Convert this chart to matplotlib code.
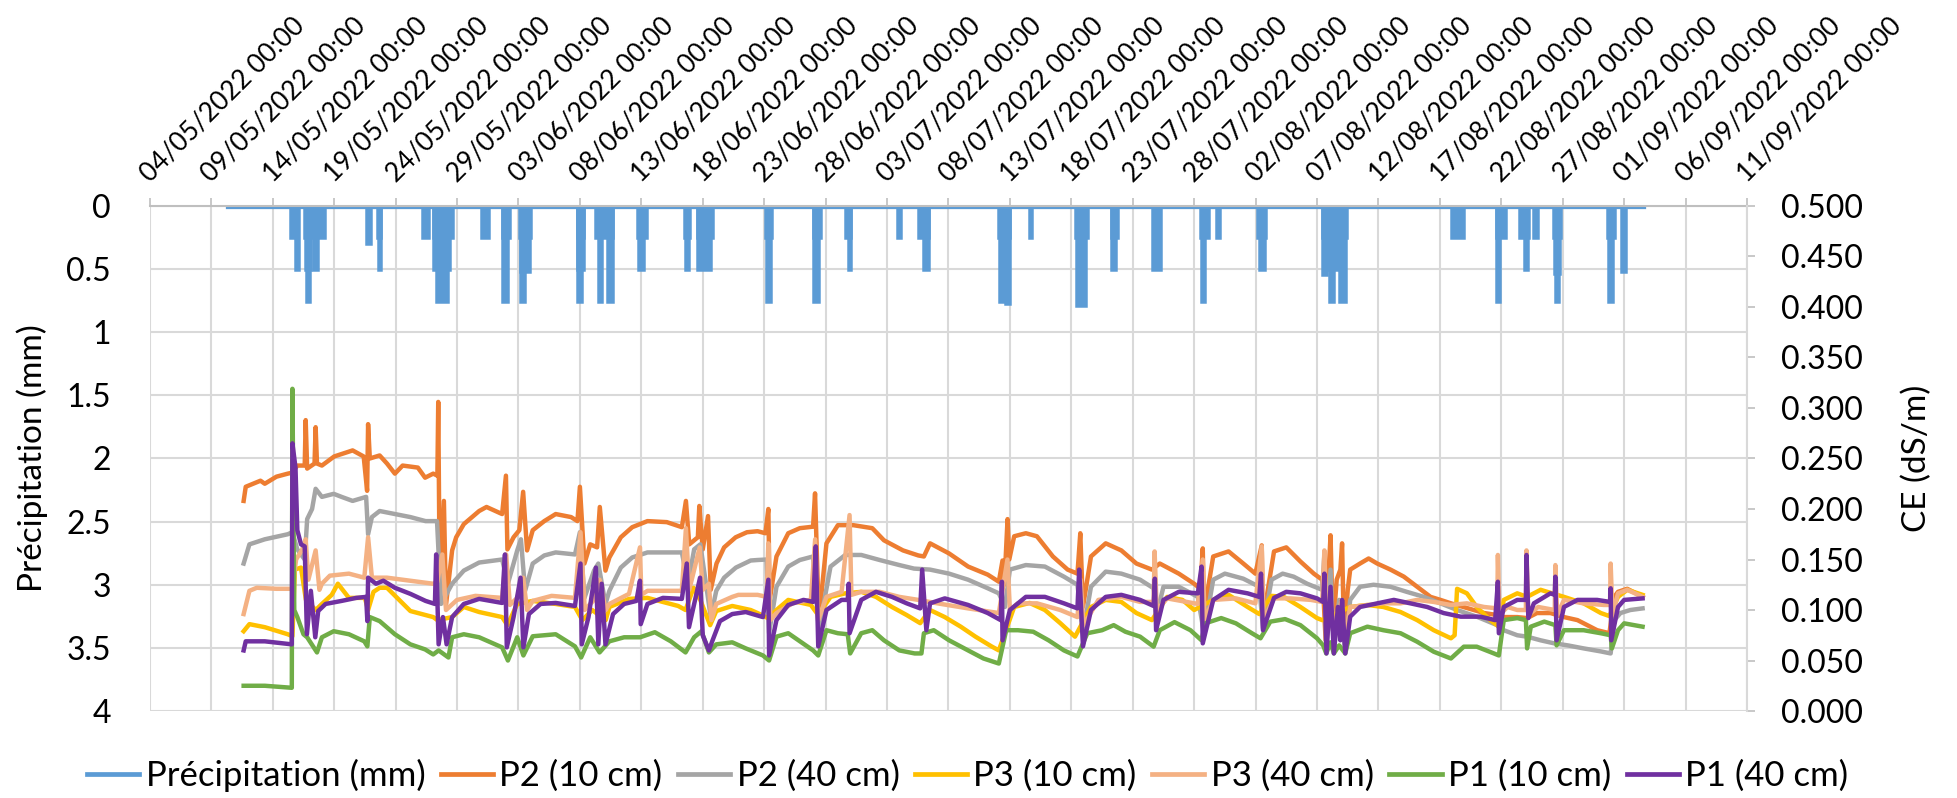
import matplotlib
matplotlib.use('Agg')
import matplotlib.pyplot as plt
import matplotlib.dates as mdates
from matplotlib.ticker import FixedLocator, FuncFormatter, MultipleLocator
import numpy as np
import pandas as pd

plt.rcParams['font.family'] = ['Lato', 'DejaVu Sans']

# ---- data (days counted from 04/05/2022 00:00) ----
start = pd.Timestamp('2022-05-04')
end = pd.Timestamp('2022-09-11')
tick_dates = pd.date_range(start, end, freq='5D')

# precipitation: first / last record and rain pulses (start day, end day, mm)
rain_first, rain_last = 6.4, 121.55
rain_start = [11.37, 11.84, 12.56, 12.62, 12.71, 13.24, 17.6, 18.48, 18.54, 22.13,
              23.06, 23.06, 23.31, 26.96, 28.67, 28.67, 30.07, 30.13, 30.16, 34.75,
              34.75, 34.8, 36.2, 36.46, 37.24, 39.64, 39.73, 43.47, 43.53, 44.56,
              44.56, 50.06, 50.12, 53.98, 53.98, 56.57, 56.79, 60.78, 62.55, 62.96,
              69.03, 69.1, 69.63, 71.53, 75.33, 75.42, 78.2, 78.23, 81.56, 85.46,
              85.55, 86.8, 90.13, 90.29, 95.42, 95.42, 95.82, 95.96, 96.77, 105.87,
              109.53, 109.53, 111.43, 111.84, 112.6, 114.23, 114.28, 114.34, 118.57, 118.68,
              119.71]
rain_end = [12.0, 12.15, 14.24, 13.09, 13.03, 13.71, 17.98, 18.85, 18.79, 22.75,
            24.68, 24.46, 24.24, 27.58, 29.29, 29.14, 31.0, 30.91, 30.54, 35.37,
            35.37, 35.2, 37.7, 36.77, 37.7, 40.45, 40.2, 43.94, 43.85, 45.81,
            45.65, 50.65, 50.56, 54.6, 54.5, 57.1, 57.1, 61.15, 63.39, 63.39,
            70.03, 69.57, 70.03, 71.84, 76.33, 76.2, 78.82, 78.6, 82.34, 86.24,
            85.92, 87.1, 90.85, 90.75, 97.45, 95.82, 96.77, 96.37, 97.32, 106.95,
            110.35, 109.88, 112.25, 112.16, 112.98, 114.88, 114.77, 114.69, 119.22, 119.11,
            120.12]
rain_mm = [0.254, 0.508, 0.254, 0.508, 0.762, 0.508, 0.3, 0.254, 0.508, 0.254,
           0.254, 0.508, 0.762, 0.254, 0.254, 0.762, 0.254, 0.52, 0.762, 0.254,
           0.508, 0.762, 0.254, 0.762, 0.762, 0.254, 0.508, 0.254, 0.508, 0.254,
           0.508, 0.254, 0.762, 0.254, 0.762, 0.254, 0.508, 0.254, 0.254, 0.508,
           0.254, 0.762, 0.78, 0.254, 0.254, 0.79, 0.254, 0.508, 0.508, 0.254,
           0.762, 0.254, 0.254, 0.508, 0.254, 0.55, 0.508, 0.762, 0.762, 0.254,
           0.254, 0.762, 0.254, 0.508, 0.254, 0.254, 0.54, 0.762, 0.254, 0.762,
           0.52]

p2_10 = [(7.63, 0.208), (7.8, 0.222), (9.0, 0.228), (9.35, 0.225), (10.3, 0.232), (11.22, 0.235),
         (11.59, 0.236), (12.0, 0.243), (12.6, 0.243), (12.68, 0.288), (12.8, 0.24), (13.4, 0.245),
         (13.49, 0.281), (13.6, 0.245), (14.0, 0.243), (15.0, 0.252), (16.5, 0.258), (17.4, 0.252),
         (17.68, 0.218), (17.76, 0.284), (17.9, 0.25), (18.7, 0.253), (19.3, 0.245), (19.94, 0.235),
         (20.57, 0.243), (21.81, 0.241), (22.4, 0.231), (23.06, 0.235), (23.4, 0.233), (23.47, 0.306),
         (23.6, 0.11), (23.93, 0.208), (24.1, 0.105), (24.6, 0.159), (24.93, 0.172), (25.55, 0.185),
         (26.8, 0.198), (27.4, 0.202), (28.67, 0.195), (28.98, 0.233), (29.1, 0.16), (29.6, 0.172),
         (30.07, 0.179), (30.38, 0.217), (30.7, 0.159), (31.16, 0.179), (32.1, 0.188), (33.03, 0.195),
         (34.28, 0.192), (34.8, 0.188), (35.0, 0.222), (35.37, 0.146), (35.84, 0.165), (36.4, 0.162),
         (36.62, 0.202), (37.08, 0.139), (37.4, 0.152), (38.33, 0.172), (39.26, 0.182), (40.5, 0.188),
         (42.07, 0.187), (43.3, 0.182), (43.63, 0.208), (43.9, 0.165), (44.6, 0.172), (44.72, 0.203),
         (45.0, 0.16), (45.43, 0.193), (45.65, 0.12), (46.12, 0.146), (46.74, 0.162), (47.68, 0.172),
         (48.6, 0.177), (49.46, 0.178), (50.1, 0.176), (50.34, 0.2), (50.45, 0.11), (51.0, 0.153),
         (51.96, 0.176), (52.9, 0.181), (53.98, 0.1825), (54.14, 0.2155), (54.45, 0.09), (55.07, 0.166),
         (56.0, 0.184), (57.25, 0.184), (58.8, 0.181), (59.75, 0.169), (61.3, 0.159), (62.55, 0.154),
         (63.0, 0.153), (63.5, 0.166), (65.05, 0.156), (66.6, 0.143), (68.2, 0.135), (69.1, 0.128),
         (69.4, 0.149), (69.55, 0.125), (69.81, 0.19), (69.95, 0.15), (70.35, 0.173), (71.3, 0.176),
         (72.2, 0.173), (73.5, 0.153), (74.7, 0.14), (75.5, 0.136), (75.73, 0.176), (75.95, 0.103),
         (76.6, 0.153), (77.8, 0.166), (79.07, 0.159), (80.3, 0.146), (81.56, 0.14), (82.2, 0.146),
         (83.75, 0.136), (85.0, 0.126), (85.5, 0.121), (85.7, 0.161), (85.8, 0.097), (86.55, 0.153),
         (87.8, 0.158), (89.0, 0.146), (89.98, 0.136), (90.5, 0.164), (90.6, 0.09), (91.5, 0.158),
         (92.5, 0.162), (93.65, 0.148), (94.74, 0.136), (95.42, 0.13), (95.5, 0.12), (95.7, 0.07),
         (96.0, 0.15), (96.1, 0.174), (96.3, 0.08), (96.6, 0.13), (96.9, 0.14), (97.04, 0.166),
         (97.2, 0.07), (97.5, 0.12), (97.7, 0.14), (98.5, 0.146), (99.2, 0.151), (99.9, 0.146),
         (100.98, 0.14), (102.07, 0.133), (103.15, 0.123), (104.24, 0.113), (105.05, 0.11), (105.9, 0.1066),
         (107.2, 0.102), (108.6, 0.097), (109.67, 0.095), (110.2, 0.093), (111.3, 0.093), (112.1, 0.092),
         (112.9, 0.097), (114.0, 0.097), (115.1, 0.093), (116.2, 0.09), (117.8, 0.08), (118.8, 0.077),
         (119.2, 0.113), (119.5, 0.118), (120.25, 0.121), (121.5, 0.113)]

p2_40 = [(7.63, 0.146), (8.1, 0.165), (9.35, 0.17), (11.22, 0.175), (11.59, 0.177), (12.0, 0.16),
         (12.6, 0.15), (12.8, 0.19), (13.2, 0.2), (13.49, 0.22), (14.0, 0.212), (14.96, 0.215),
         (15.6, 0.212), (16.5, 0.208), (17.6, 0.212), (17.76, 0.175), (18.07, 0.192), (18.7, 0.198),
         (19.94, 0.195), (21.2, 0.192), (22.44, 0.188), (23.37, 0.188), (23.7, 0.106), (24.6, 0.126),
         (25.55, 0.139), (26.8, 0.147), (28.67, 0.15), (29.14, 0.126), (29.9, 0.159), (30.2, 0.17),
         (30.54, 0.119), (31.16, 0.146), (32.1, 0.154), (33.03, 0.157), (34.6, 0.155), (35.0, 0.177),
         (35.37, 0.112), (36.15, 0.139), (36.5, 0.146), (37.08, 0.106), (37.4, 0.119), (38.33, 0.142),
         (39.26, 0.152), (40.5, 0.157), (43.3, 0.157), (43.8, 0.126), (44.3, 0.16), (44.8, 0.165),
         (45.65, 0.093), (46.1, 0.119), (46.74, 0.132), (47.7, 0.142), (48.9, 0.149), (49.46, 0.1495),
         (50.2, 0.15), (50.4, 0.077), (51.0, 0.123), (51.96, 0.143), (52.9, 0.1495), (53.98, 0.153),
         (54.45, 0.08), (55.4, 0.143), (56.6, 0.1545), (57.9, 0.1545), (59.4, 0.1495), (61.0, 0.1445),
         (62.2, 0.141), (63.5, 0.14), (65.05, 0.136), (66.6, 0.13), (68.2, 0.1215), (69.1, 0.1165),
         (69.6, 0.103), (70.0, 0.14), (71.3, 0.1445), (72.85, 0.143), (74.4, 0.133), (75.5, 0.125),
         (75.95, 0.077), (76.6, 0.123), (77.8, 0.138), (79.07, 0.136), (80.6, 0.13), (81.7, 0.1215),
         (81.9, 0.093), (82.5, 0.123), (83.75, 0.123), (85.3, 0.113), (85.8, 0.077), (86.55, 0.13),
         (87.5, 0.136), (89.0, 0.131), (90.3, 0.123), (90.6, 0.082), (91.3, 0.13), (92.2, 0.136),
         (93.1, 0.133), (94.2, 0.126), (95.42, 0.12), (95.6, 0.155), (95.75, 0.06), (96.1, 0.14),
         (96.37, 0.06), (96.8, 0.11), (97.3, 0.06), (97.7, 0.11), (98.5, 0.123), (99.6, 0.125),
         (100.98, 0.123), (102.3, 0.118), (103.7, 0.113), (105.05, 0.1066), (106.4, 0.1), (108.0, 0.0934),
         (109.67, 0.085), (110.2, 0.08), (111.3, 0.075), (112.1, 0.0736), (113.2, 0.07), (114.3, 0.067),
         (115.4, 0.065), (116.7, 0.062), (118.1, 0.059), (118.9, 0.057), (119.2, 0.09), (119.7, 0.097),
         (120.5, 0.1), (121.5, 0.1016)]

p3_10 = [(7.63, 0.079), (8.1, 0.086), (9.35, 0.083), (11.22, 0.076), (11.6, 0.074), (11.8, 0.14),
         (12.3, 0.142), (12.7, 0.11), (13.5, 0.1), (14.0, 0.106), (14.8, 0.115), (15.3, 0.126),
         (16.2, 0.112), (17.5, 0.112), (17.76, 0.1), (18.2, 0.118), (18.7, 0.122), (19.3, 0.122),
         (21.2, 0.099), (23.06, 0.093), (23.4, 0.09), (24.6, 0.093), (25.55, 0.103), (26.8, 0.098),
         (28.67, 0.093), (29.1, 0.085), (29.9, 0.106), (31.16, 0.109), (33.03, 0.106), (34.6, 0.103),
         (35.2, 0.09), (36.0, 0.1), (37.1, 0.09), (37.4, 0.103), (39.0, 0.111), (40.5, 0.112),
         (43.0, 0.104), (43.6, 0.1), (44.25, 0.122), (44.8, 0.11), (45.6, 0.085), (46.1, 0.099),
         (47.4, 0.104), (48.9, 0.1), (49.46, 0.097), (50.3, 0.092), (51.0, 0.1), (51.96, 0.11),
         (53.8, 0.105), (54.4, 0.095), (55.4, 0.113), (56.6, 0.1165), (57.9, 0.118), (59.1, 0.113),
         (60.4, 0.103), (61.6, 0.095), (62.7, 0.087), (63.5, 0.1), (64.7, 0.093), (66.0, 0.0835),
         (67.2, 0.0736), (68.5, 0.064), (69.1, 0.06), (70.35, 0.103), (71.6, 0.107), (72.85, 0.1),
         (74.1, 0.087), (75.3, 0.0736), (76.6, 0.103), (77.8, 0.11), (79.07, 0.108), (80.3, 0.097),
         (81.56, 0.09), (82.8, 0.113), (84.05, 0.11), (85.0, 0.1), (86.55, 0.11), (87.8, 0.115),
         (89.35, 0.103), (90.3, 0.096), (91.3, 0.114), (92.3, 0.113), (93.65, 0.103), (95.0, 0.092),
         (95.42, 0.09), (97.7, 0.103), (99.1, 0.105), (100.4, 0.103), (101.8, 0.098), (103.15, 0.09),
         (104.5, 0.08), (105.9, 0.072), (106.2, 0.075), (106.4, 0.121), (107.2, 0.1165), (108.0, 0.103),
         (109.1, 0.09), (109.8, 0.0835), (110.2, 0.11), (111.3, 0.1165), (112.1, 0.113), (113.2, 0.12),
         (114.0, 0.117), (115.1, 0.113), (116.7, 0.1066), (118.1, 0.097), (118.8, 0.094), (119.5, 0.113),
         (120.25, 0.12), (121.5, 0.115)]

p3_40 = [(7.63, 0.096), (8.1, 0.119), (8.7, 0.122), (10.3, 0.121), (11.59, 0.121), (11.9, 0.15),
         (12.4, 0.16), (12.68, 0.17), (12.9, 0.13), (13.49, 0.159), (13.8, 0.12), (14.0, 0.126),
         (14.65, 0.134), (16.2, 0.136), (17.45, 0.132), (17.76, 0.172), (18.07, 0.132), (19.3, 0.132),
         (21.2, 0.129), (23.06, 0.126), (23.4, 0.128), (23.8, 0.155), (24.1, 0.1), (25.0, 0.11),
         (26.5, 0.114), (28.67, 0.112), (29.0, 0.155), (29.3, 0.105), (29.9, 0.112), (30.38, 0.132),
         (30.7, 0.1), (31.16, 0.109), (32.7, 0.114), (34.6, 0.112), (35.05, 0.177), (35.4, 0.1),
         (36.15, 0.11), (36.6, 0.13), (37.1, 0.1), (37.4, 0.106), (39.0, 0.116), (39.89, 0.162),
         (40.0, 0.115), (40.5, 0.119), (43.3, 0.119), (43.63, 0.181), (43.9, 0.12), (44.75, 0.162),
         (45.0, 0.12), (45.5, 0.126), (45.7, 0.09), (46.1, 0.106), (47.4, 0.113), (47.9, 0.115),
         (49.46, 0.115), (50.2, 0.113), (50.34, 0.166), (50.5, 0.09), (51.0, 0.097), (52.3, 0.1066),
         (53.8, 0.11), (54.15, 0.17), (54.4, 0.09), (55.07, 0.113), (56.3, 0.118), (56.95, 0.194),
         (57.1, 0.115), (57.9, 0.118), (59.4, 0.118), (61.0, 0.113), (62.55, 0.11), (64.1, 0.1066),
         (66.6, 0.1016), (69.1, 0.097), (69.8, 0.15), (70.0, 0.1), (70.65, 0.1066), (72.2, 0.1066),
         (74.1, 0.1), (75.5, 0.093), (75.75, 0.13), (76.0, 0.085), (77.2, 0.11), (79.07, 0.113),
         (80.6, 0.108), (81.7, 0.108), (81.78, 0.158), (81.95, 0.1), (82.8, 0.1115), (84.4, 0.108),
         (85.3, 0.106), (85.7, 0.15), (85.85, 0.09), (86.55, 0.11), (88.4, 0.1115), (89.98, 0.1066),
         (90.5, 0.163), (90.65, 0.09), (91.5, 0.1115), (92.84, 0.1115), (94.5, 0.11), (95.42, 0.108),
         (95.6, 0.159), (95.8, 0.07), (96.1, 0.12), (96.4, 0.07), (97.0, 0.11), (97.3, 0.07),
         (97.7, 0.103), (100.4, 0.1066), (101.8, 0.1066), (103.15, 0.11), (104.5, 0.108), (105.9, 0.105),
         (107.2, 0.1066), (108.6, 0.103), (109.67, 0.1016), (109.72, 0.1545), (109.85, 0.095), (110.5, 0.103),
         (111.3, 0.1), (112.0, 0.1), (112.05, 0.159), (112.2, 0.095), (113.0, 0.103), (114.35, 0.1),
         (114.4, 0.1445), (114.55, 0.095), (115.1, 0.11), (116.7, 0.1066), (118.35, 0.105), (118.85, 0.105),
         (118.9, 0.146), (119.05, 0.095), (119.5, 0.1165), (120.25, 0.12), (121.5, 0.113)]

p1_10 = [(7.63, 0.025), (9.35, 0.025), (11.55, 0.023), (11.6, 0.319), (11.75, 0.1), (12.0, 0.093),
         (12.5, 0.076), (12.8, 0.073), (13.6, 0.058), (14.0, 0.073), (14.96, 0.079), (16.2, 0.076),
         (17.45, 0.069), (17.7, 0.064), (17.9, 0.093), (18.7, 0.089), (19.94, 0.076), (21.2, 0.066),
         (22.4, 0.061), (23.06, 0.056), (23.5, 0.06), (24.3, 0.053), (24.6, 0.073), (25.55, 0.076),
         (26.8, 0.073), (28.67, 0.063), (29.14, 0.05), (29.9, 0.073), (30.4, 0.055), (31.16, 0.074),
         (33.03, 0.076), (34.6, 0.064), (35.1, 0.053), (35.84, 0.073), (36.6, 0.058), (37.4, 0.069),
         (38.6, 0.073), (39.9, 0.073), (41.1, 0.078), (42.4, 0.069), (43.6, 0.058), (44.3, 0.073),
         (44.9, 0.079), (45.5, 0.058), (46.1, 0.066), (47.4, 0.068), (48.5, 0.062), (49.9, 0.055),
         (50.4, 0.05), (51.0, 0.0736), (51.96, 0.077), (53.98, 0.06), (54.4, 0.055), (55.07, 0.08),
         (56.0, 0.077), (56.8, 0.076), (57.0, 0.057), (57.9, 0.077), (58.8, 0.08), (59.75, 0.07),
         (61.0, 0.06), (62.25, 0.057), (62.8, 0.057), (63.0, 0.077), (63.8, 0.08), (65.05, 0.07),
         (66.6, 0.06), (67.85, 0.052), (69.1, 0.047), (69.7, 0.08), (70.65, 0.08), (71.9, 0.0785),
         (73.15, 0.07), (74.4, 0.06), (75.5, 0.054), (76.3, 0.077), (77.5, 0.08), (78.45, 0.085),
         (79.4, 0.0785), (80.6, 0.0736), (81.7, 0.0637), (82.2, 0.08), (83.4, 0.088), (84.7, 0.08),
         (85.6, 0.07), (85.9, 0.0868), (87.2, 0.092), (88.4, 0.0868), (89.7, 0.077), (90.4, 0.072),
         (91.2, 0.0885), (92.4, 0.091), (93.65, 0.085), (95.0, 0.072), (95.5, 0.065), (95.75, 0.057),
         (96.1, 0.068), (96.37, 0.057), (96.8, 0.065), (97.3, 0.057), (97.7, 0.077), (99.1, 0.0835),
         (100.4, 0.08), (101.8, 0.077), (103.15, 0.0686), (104.5, 0.0587), (105.9, 0.052), (106.95, 0.0637),
         (108.0, 0.0637), (109.4, 0.057), (109.8, 0.055), (110.2, 0.09), (111.3, 0.092), (112.0, 0.09),
         (112.1, 0.062), (112.4, 0.0835), (113.5, 0.0885), (114.4, 0.085), (114.5, 0.065), (115.1, 0.08),
         (116.7, 0.08), (118.1, 0.077), (118.9, 0.075), (119.0, 0.062), (119.5, 0.08), (120.0, 0.0868),
         (121.5, 0.0835)]

p1_40 = [(7.63, 0.06), (7.8, 0.069), (9.35, 0.069), (11.55, 0.066), (11.6, 0.265), (11.85, 0.241),
         (12.0, 0.179), (12.3, 0.165), (12.6, 0.163), (12.78, 0.076), (13.1, 0.119), (13.46, 0.073),
         (13.7, 0.099), (14.3, 0.106), (15.6, 0.109), (16.8, 0.112), (17.6, 0.113), (17.7, 0.089),
         (17.76, 0.132), (18.4, 0.126), (19.0, 0.129), (19.94, 0.122), (21.2, 0.116), (22.44, 0.109),
         (23.2, 0.106), (23.3, 0.155), (23.5, 0.066), (23.85, 0.093), (24.15, 0.066), (24.6, 0.093),
         (25.55, 0.106), (26.8, 0.111), (28.67, 0.107), (28.9, 0.155), (29.05, 0.063), (29.6, 0.093),
         (30.17, 0.132), (30.4, 0.063), (30.85, 0.096), (31.8, 0.106), (33.03, 0.107), (34.6, 0.104),
         (35.05, 0.146), (35.15, 0.066), (35.7, 0.093), (36.3, 0.142), (36.5, 0.066), (36.77, 0.126),
         (37.08, 0.066), (37.7, 0.096), (38.6, 0.106), (39.6, 0.109), (39.89, 0.129), (39.95, 0.086),
         (40.5, 0.106), (41.76, 0.112), (43.3, 0.111), (43.7, 0.146), (43.88, 0.083), (44.3, 0.106),
         (44.78, 0.132), (45.0, 0.075), (45.5, 0.06), (45.8, 0.07), (46.4, 0.089), (47.4, 0.096),
         (48.5, 0.098), (49.9, 0.093), (50.34, 0.13), (50.4, 0.055), (51.0, 0.09), (51.96, 0.105),
         (53.2, 0.11), (54.0, 0.108), (54.2, 0.163), (54.4, 0.064), (55.07, 0.1), (56.3, 0.11),
         (56.8, 0.11), (56.88, 0.126), (56.95, 0.077), (57.9, 0.11), (59.1, 0.118), (60.4, 0.113),
         (61.6, 0.1066), (62.7, 0.1016), (62.86, 0.14), (63.2, 0.08), (63.5, 0.1066), (64.7, 0.1115),
         (66.6, 0.105), (68.2, 0.097), (69.25, 0.09), (69.35, 0.128), (69.4, 0.07), (70.0, 0.1),
         (71.3, 0.113), (72.85, 0.113), (74.4, 0.1066), (75.5, 0.1016), (75.64, 0.14), (75.95, 0.064),
         (76.6, 0.1), (77.8, 0.113), (79.07, 0.115), (80.6, 0.11), (81.7, 0.104), (81.8, 0.131),
         (81.9, 0.08), (82.5, 0.11), (83.75, 0.118), (85.3, 0.1165), (85.6, 0.143), (85.7, 0.067),
         (86.55, 0.11), (87.8, 0.12), (89.35, 0.1165), (90.3, 0.113), (90.44, 0.136), (90.6, 0.08),
         (91.5, 0.112), (92.5, 0.118), (93.65, 0.1165), (95.0, 0.1115), (95.5, 0.108), (95.6, 0.136),
         (95.77, 0.057), (96.1, 0.123), (96.37, 0.057), (96.7, 0.103), (96.9, 0.07), (97.04, 0.11),
         (97.3, 0.057), (97.7, 0.0934), (98.5, 0.103), (99.9, 0.1066), (101.25, 0.11), (102.6, 0.1066),
         (103.97, 0.103), (105.3, 0.097), (106.7, 0.0934), (108.3, 0.0934), (109.5, 0.09), (109.72, 0.128),
         (109.8, 0.077), (110.2, 0.103), (111.3, 0.11), (112.0, 0.11), (112.05, 0.1545), (112.2, 0.092),
         (112.65, 0.1066), (114.0, 0.1165), (114.35, 0.115), (114.4, 0.133), (114.5, 0.07), (115.1, 0.103),
         (116.2, 0.11), (117.8, 0.11), (118.85, 0.108), (118.9, 0.1215), (118.95, 0.07), (119.5, 0.103),
         (120.0, 0.11), (121.5, 0.1115)]

series = [("P2 (10 cm)", p2_10, "#ED7D31"),
          ("P2 (40 cm)", p2_40, "#A5A5A5"),
          ("P3 (10 cm)", p3_10, "#FFC000"),
          ("P3 (40 cm)", p3_40, "#F4B183"),
          ("P1 (10 cm)", p1_10, "#70AD47"),
          ("P1 (40 cm)", p1_40, "#7030A0")]
blue = "#5B9BD5"

t0 = mdates.date2num(start)
def tnum(days):
    return t0 + np.asarray(days, dtype=float)

fig = plt.figure(figsize=(19.57, 7.98), dpi=100)
ax = fig.add_axes([0.0766, 0.109, 0.8161, 0.6329])
ax2 = ax.twinx()

# precipitation (left axis, reversed)
base, = ax.plot(tnum([rain_first, rain_last]), [0, 0], color=blue, lw=4.5,
                label="Précipitation (mm)", zorder=2)
ax.bar(tnum(rain_start), rain_mm, width=np.subtract(rain_end, rain_start), bottom=0,
       align='edge', color=blue, edgecolor=blue, linewidth=1.8, zorder=2)

handles = [base]
for name, pts, col in series:
    d, v = zip(*pts)
    h, = ax2.plot(tnum(d), v, color=col, lw=3.2, label=name, solid_joinstyle='round')
    handles.append(h)

# x axis (dates on top)
ax.set_xlim(mdates.date2num(start), mdates.date2num(end))
ax.xaxis.set_major_locator(FixedLocator(mdates.date2num(tick_dates)))
ax.xaxis.set_major_formatter(mdates.DateFormatter('%d/%m/%Y %H:%M'))
ax.xaxis.tick_top()
ax.tick_params(axis='x', which='major', top=True, bottom=False, direction='out',
               length=5.8, width=1.2, color='#BFBFBF', pad=11, labelsize=19)
for lab in ax.get_xticklabels():
    lab.set_rotation(45)
    lab.set_ha('left')
    lab.set_va('baseline')
    lab.set_rotation_mode('anchor')

# left axis
ax.set_ylim(4, 0)
ax.yaxis.set_major_locator(MultipleLocator(0.5))
ax.yaxis.set_major_formatter(FuncFormatter(lambda v, p: f'{v:g}'))
ax.tick_params(axis='y', length=0, pad=28, labelsize=23)
ax.set_ylabel('Précipitation (mm)', fontsize=24)
ax.yaxis.set_label_coords(-0.064, 0.5)

# right axis
ax2.set_ylim(0, 0.5)
ax2.yaxis.set_major_locator(MultipleLocator(0.05))
ax2.yaxis.set_major_formatter(FuncFormatter(lambda v, p: f'{v:.3f}'))
ax2.tick_params(axis='y', direction='out', length=5.8, width=1.2, color='#BFBFBF',
                pad=19, labelsize=23)
ax2.tick_params(axis='x', which='both', top=False, bottom=False, labeltop=False, labelbottom=False)
ax2.set_ylabel('CE (dS/m)', fontsize=24)
ax2.yaxis.set_label_coords(1.097, 0.5)

ax.grid(True, color='#D9D9D9', lw=1.5)
ax.set_axisbelow(True)
for s in ['left', 'bottom', 'right']:
    ax.spines[s].set_visible(False)
    ax2.spines[s].set_visible(False)
ax.spines['top'].set_color('#BFBFBF')
ax.spines['top'].set_linewidth(1.5)
ax2.spines['top'].set_visible(False)
ax2.spines['right'].set_visible(True)
ax2.spines['right'].set_color('#D9D9D9')
ax2.spines['right'].set_linewidth(1.5)

leg = fig.legend(handles, [h.get_label() for h in handles], loc='center',
                 bbox_to_anchor=(0.4945, 0.028), ncol=7, frameon=False, fontsize=25,
                 handlelength=1.5, handletextpad=0.18, columnspacing=0.45)
for lh in leg.get_lines():
    lh.set_linewidth(3.4)

fig.savefig('out.png', dpi=100)
